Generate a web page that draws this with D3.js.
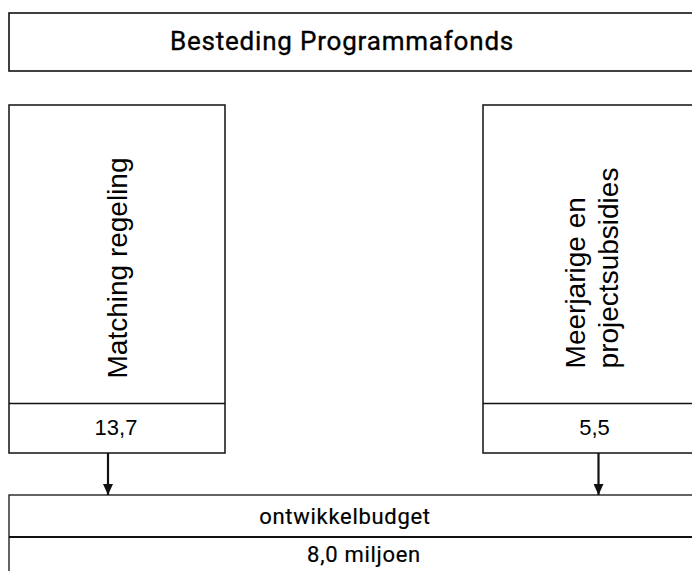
<!DOCTYPE html>
<html>
<head>
<meta charset="utf-8">
<script src="https://cdn.jsdelivr.net/npm/d3@7"></script>
<style>
	html, body { margin: 0; padding: 0; background: #fff; overflow: hidden; }
</style>
</head>
<body>
<div id="chart"></div>
<script>
const WIDTH = 692;
const HEIGHT = 571;

const title = "Besteding Programmafonds";
const sources = ["Matching regeling", "Meerjarige en|projectsubsidies"];
const amounts = ["13,7", "5,5"];
const targetLabel = "ontwikkelbudget";
const targetAmount = "8,0 miljoen";

// layout of the two source columns
const columnLeft = [9, 483];
const columnRight = [225, 740];
const labelCenter = [117, 591];
const amountCenter = [116, 594.5];
const arrowX = [108, 598.5];

const condensed = "Roboto, 'Liberation Sans', sans-serif";
const plain = "'Liberation Sans', Arial, sans-serif";
const ink = "#111";

const svg = d3.select("#chart")
	.append("svg")
	.attr("width", WIDTH)
	.attr("height", HEIGHT)
	.attr("viewBox", `0 0 ${WIDTH} ${HEIGHT}`);

const defs = svg.append("defs");
defs.append("marker")
	.attr("id", "head")
	.attr("viewBox", "0 0 11 10")
	.attr("refX", 11)
	.attr("refY", 5)
	.attr("markerWidth", 11)
	.attr("markerHeight", 10)
	.attr("markerUnits", "userSpaceOnUse")
	.attr("orient", "auto")
	.append("path")
	.attr("d", "M0,0 L11,5 L0,10 Z")
	.attr("fill", ink);

// title box
svg.append("rect")
	.attr("x", 9).attr("y", 13)
	.attr("width", 760).attr("height", 58)
	.attr("fill", "none")
	.attr("stroke", ink)
	.attr("stroke-width", 1.6);

// medium-weight look: regular face with a hairline stroke
const textStyle = (sel, size, weight) => sel
	.attr("text-anchor", "middle")
	.attr("font-family", condensed)
	.attr("font-size", size)
	.attr("fill", "#000")
	.attr("stroke", "#000")
	.attr("stroke-width", weight);

svg.append("text")
	.attr("x", 342).attr("y", 50)
	.call(textStyle, "26px", 0.35)
	.attr("letter-spacing", "0.8px")
	.text(title);

// source columns
const cols = svg.selectAll("g.col")
	.data(sources.map((s, i) => ({ label: s, amount: amounts[i], i })))
	.enter()
	.append("g")
	.attr("class", "col");

cols.append("rect")
	.attr("x", d => columnLeft[d.i])
	.attr("y", 105)
	.attr("width", d => columnRight[d.i] - columnLeft[d.i])
	.attr("height", 348)
	.attr("fill", "none")
	.attr("stroke", ink)
	.attr("stroke-width", 1.5);

cols.append("line")
	.attr("x1", d => columnLeft[d.i])
	.attr("x2", d => columnRight[d.i])
	.attr("y1", 403.5).attr("y2", 403.5)
	.attr("stroke", ink)
	.attr("stroke-width", 1.3);

cols.each(function (d) {
	const lines = d.label.split("|");
	const lh = 33;
	const g = d3.select(this).append("g");
	const t = g.append("text")
		.attr("font-family", plain)
		.attr("font-size", "28px")
		.attr("fill", "#000");
	lines.forEach((ln, k) => {
		t.append("tspan")
			.attr("x", 0)
			.attr("y", (k - (lines.length - 1) / 2) * lh + 10)
			.text(ln);
	});
	const w = d3.max(t.selectAll("tspan").nodes(), n => n.getComputedTextLength());
	g.attr("transform", `translate(${labelCenter[d.i]}, ${268 + w / 2}) rotate(-90)`);
});

cols.append("text")
	.attr("x", d => amountCenter[d.i])
	.attr("y", 435)
	.attr("text-anchor", "middle")
	.attr("font-family", plain)
	.attr("font-size", "22px")
	.attr("fill", "#000")
	.text(d => d.amount);

cols.append("line")
	.attr("x1", d => arrowX[d.i])
	.attr("x2", d => arrowX[d.i])
	.attr("y1", 453)
	.attr("y2", 495)
	.attr("stroke", ink)
	.attr("stroke-width", 2.2)
	.attr("marker-end", "url(#head)");

// target box
svg.append("rect")
	.attr("x", 9).attr("y", 495)
	.attr("width", 760).attr("height", 120)
	.attr("fill", "none")
	.attr("stroke", ink)
	.attr("stroke-width", 1.3);

svg.append("line")
	.attr("x1", 9).attr("x2", 769)
	.attr("y1", 537).attr("y2", 537)
	.attr("stroke", ink)
	.attr("stroke-width", 2);

svg.append("text")
	.attr("x", 345).attr("y", 524)
	.call(textStyle, "22px", 0.2)
	.attr("letter-spacing", "0.7px")
	.text(targetLabel);

svg.append("text")
	.attr("x", 364).attr("y", 562)
	.call(textStyle, "22px", 0.2)
	.attr("letter-spacing", "0.7px")
	.text(targetAmount);
</script>
</body>
</html>
